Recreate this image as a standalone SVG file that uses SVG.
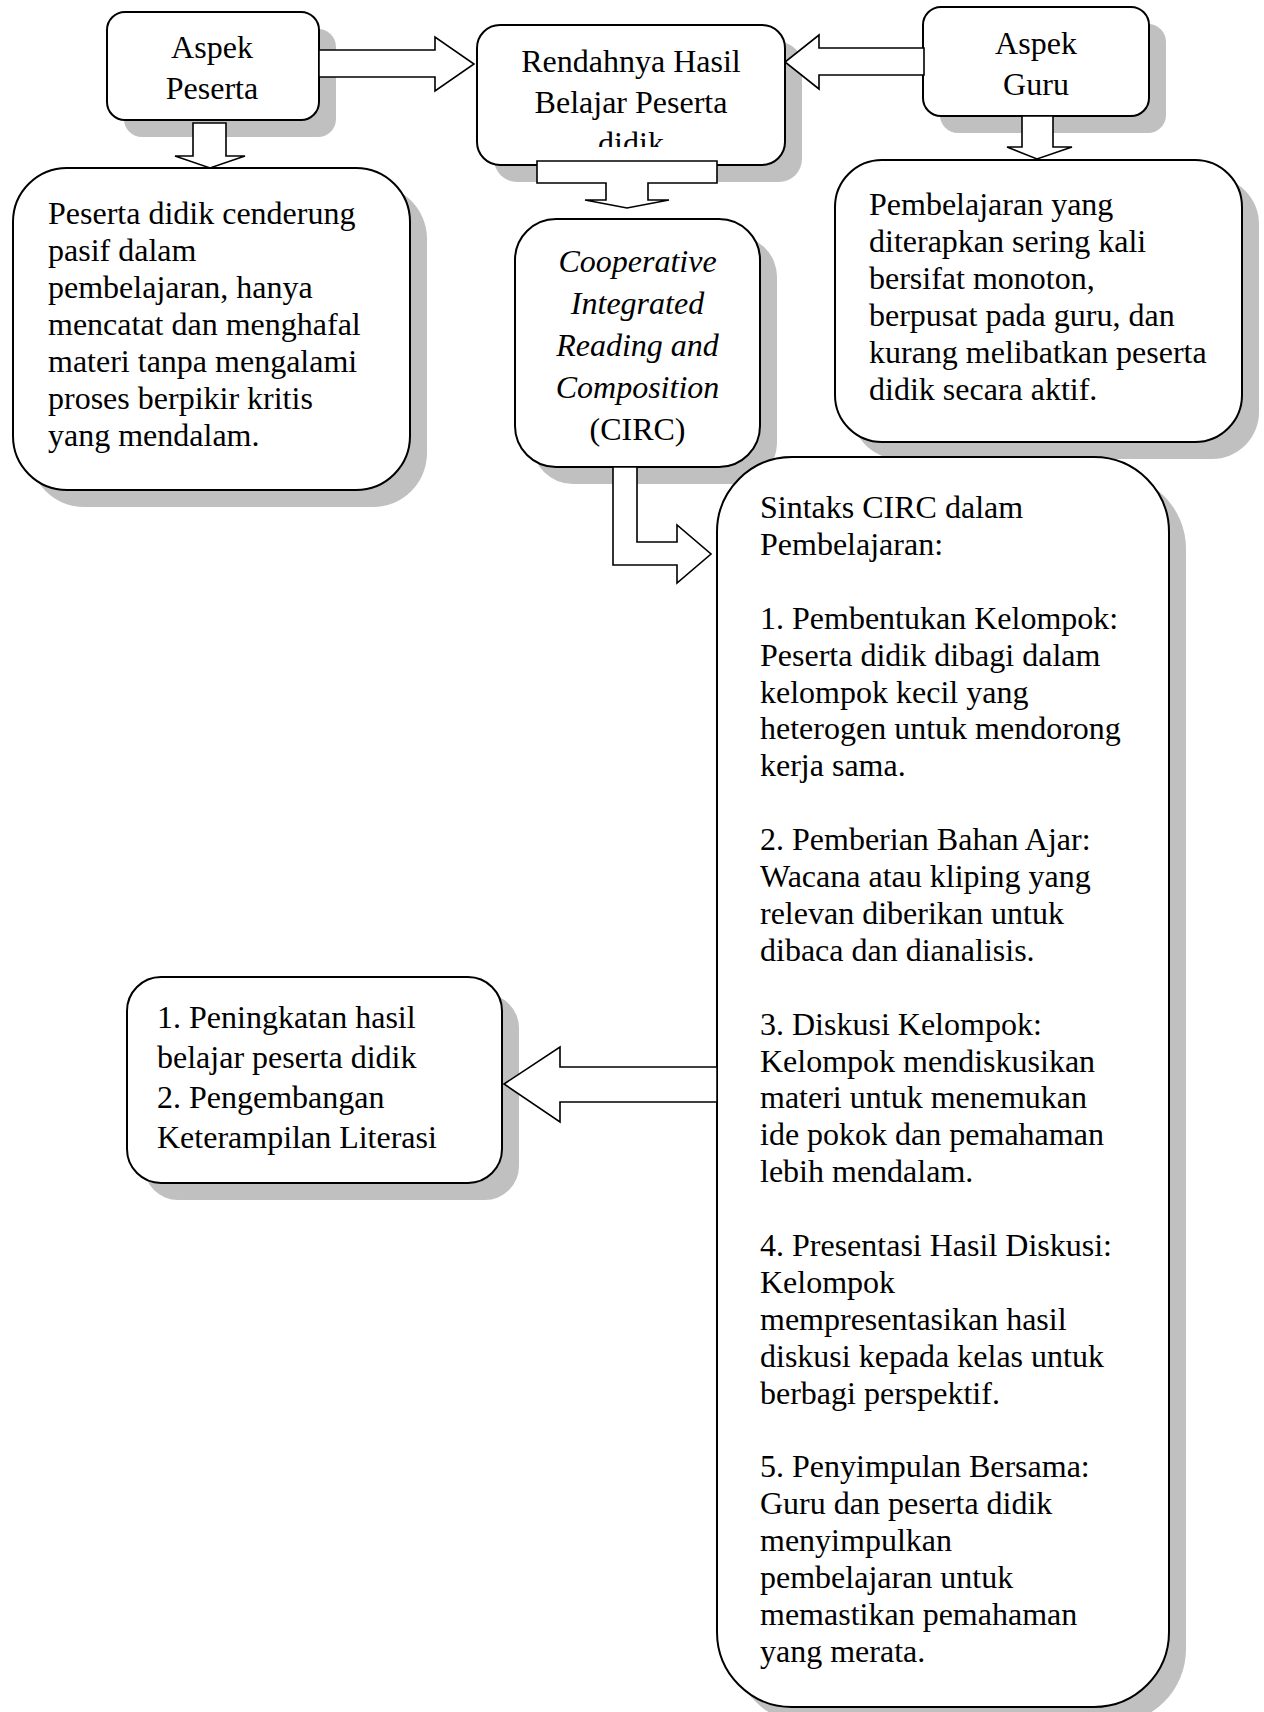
<svg xmlns="http://www.w3.org/2000/svg" width="1264" height="1712" viewBox="0 0 1264 1712">
<style>
.bg{fill:#ffffff}
.shadow{fill:#c0c0c0}
.box{fill:#ffffff;stroke:#000000;stroke-width:2}
.arrow{fill:#ffffff;stroke:#000000;stroke-width:1.6;stroke-linejoin:miter}
.t{font-family:"Liberation Serif","Times New Roman",serif;font-size:32px;fill:#000000}
.c{text-anchor:middle}
.i{font-style:italic}
</style>
<defs>
<clipPath id="clipR"><rect x="477" y="25" width="308" height="122"/></clipPath>
</defs>
<rect class="bg" x="0" y="0" width="1264" height="1712"/>

<g id="node-aspek-peserta">
<rect class="shadow" x="124" y="29" width="212" height="108" rx="18"/>
<rect class="box" x="107" y="12" width="212" height="108" rx="18"/>
<text class="t c" x="212"><tspan x="212" y="58">Aspek</tspan><tspan x="212" y="99">Peserta</tspan></text>
</g>

<g id="node-rendahnya">
<rect class="shadow" x="494" y="42" width="308" height="140" rx="23"/>
<rect class="box" x="477" y="25" width="308" height="140" rx="23"/>
<text class="t c" clip-path="url(#clipR)"><tspan x="631" y="72">Rendahnya Hasil</tspan><tspan x="631" y="113">Belajar Peserta</tspan><tspan x="631" y="154">didik</tspan></text>
</g>

<g id="node-aspek-guru">
<rect class="shadow" x="940" y="24" width="226" height="109" rx="18"/>
<rect class="box" x="923" y="7" width="226" height="109" rx="18"/>
<text class="t c"><tspan x="1036" y="54">Aspek</tspan><tspan x="1036" y="95">Guru</tspan></text>
</g>

<g id="node-peserta-didik">
<rect class="shadow" x="30" y="185" width="397" height="322" rx="54"/>
<rect class="box" x="13" y="168" width="397" height="322" rx="54"/>
<text class="t"><tspan x="48" y="224">Peserta didik cenderung</tspan><tspan x="48" y="261">pasif dalam</tspan><tspan x="48" y="298">pembelajaran, hanya</tspan><tspan x="48" y="335">mencatat dan menghafal</tspan><tspan x="48" y="372">materi tanpa mengalami</tspan><tspan x="48" y="409">proses berpikir kritis</tspan><tspan x="48" y="446">yang mendalam.</tspan></text>
</g>

<g id="node-pembelajaran">
<rect class="shadow" x="852" y="177" width="407" height="282" rx="47"/>
<rect class="box" x="835" y="160" width="407" height="282" rx="47"/>
<text class="t"><tspan x="869" y="215">Pembelajaran yang</tspan><tspan x="869" y="252">diterapkan sering kali</tspan><tspan x="869" y="289">bersifat monoton,</tspan><tspan x="869" y="326">berpusat pada guru, dan</tspan><tspan x="869" y="363">kurang melibatkan peserta</tspan><tspan x="869" y="400">didik secara aktif.</tspan></text>
</g>

<g id="node-circ">
<rect class="shadow" x="532" y="236" width="245" height="248" rx="41"/>
<rect class="box" x="515" y="219" width="245" height="248" rx="41"/>
<text class="t c"><tspan class="i" x="637.5" y="272">Cooperative</tspan><tspan class="i" x="637.5" y="314">Integrated</tspan><tspan class="i" x="637.5" y="356">Reading and</tspan><tspan class="i" x="637.5" y="398">Composition</tspan><tspan x="637.5" y="440">(CIRC)</tspan></text>
</g>

<g id="node-sintaks">
<rect class="shadow" x="734" y="474" width="452" height="1250" rx="75"/>
<rect class="box" x="717" y="457" width="452" height="1250" rx="75"/>
<text class="t"><tspan x="760" y="518">Sintaks CIRC dalam</tspan><tspan x="760" dy="36.9">Pembelajaran:</tspan><tspan x="760" dy="73.8">1. Pembentukan Kelompok:</tspan><tspan x="760" dy="36.9">Peserta didik dibagi dalam</tspan><tspan x="760" dy="36.9">kelompok kecil yang</tspan><tspan x="760" dy="36.9">heterogen untuk mendorong</tspan><tspan x="760" dy="36.9">kerja sama.</tspan><tspan x="760" dy="73.8">2. Pemberian Bahan Ajar:</tspan><tspan x="760" dy="36.9">Wacana atau kliping yang</tspan><tspan x="760" dy="36.9">relevan diberikan untuk</tspan><tspan x="760" dy="36.9">dibaca dan dianalisis.</tspan><tspan x="760" dy="73.8">3. Diskusi Kelompok:</tspan><tspan x="760" dy="36.9">Kelompok mendiskusikan</tspan><tspan x="760" dy="36.9">materi untuk menemukan</tspan><tspan x="760" dy="36.9">ide pokok dan pemahaman</tspan><tspan x="760" dy="36.9">lebih mendalam.</tspan><tspan x="760" dy="73.8">4. Presentasi Hasil Diskusi:</tspan><tspan x="760" dy="36.9">Kelompok</tspan><tspan x="760" dy="36.9">mempresentasikan hasil</tspan><tspan x="760" dy="36.9">diskusi kepada kelas untuk</tspan><tspan x="760" dy="36.9">berbagi perspektif.</tspan><tspan x="760" dy="73.8">5. Penyimpulan Bersama:</tspan><tspan x="760" dy="36.9">Guru dan peserta didik</tspan><tspan x="760" dy="36.9">menyimpulkan</tspan><tspan x="760" dy="36.9">pembelajaran untuk</tspan><tspan x="760" dy="36.9">memastikan pemahaman</tspan><tspan x="760" dy="36.9">yang merata.</tspan></text>
</g>

<g id="node-hasil">
<rect class="shadow" x="144" y="994" width="375" height="206" rx="34"/>
<rect class="box" x="127" y="977" width="375" height="206" rx="34"/>
<text class="t"><tspan x="157" y="1028">1. Peningkatan hasil</tspan><tspan x="157" y="1068">belajar peserta didik</tspan><tspan x="157" y="1108">2. Pengembangan</tspan><tspan x="157" y="1148">Keterampilan Literasi</tspan></text>
</g>

<g id="connectors">
<polygon class="arrow" points="319,50 435,50 435,37 474,64 435,91 435,77 319,77"/>
<polygon class="arrow" points="924,48 819,48 819,35 785,62 819,89 819,75 924,75"/>
<polygon class="arrow" points="193,123 226,123 226,156 245,156 210,168 175,156 193,156"/>
<polygon class="arrow" points="1022,116 1053,116 1053,147 1072,147 1037,159 1007,147 1022,147"/>
<polygon class="arrow" points="537,161 717,161 717,183 648,183 648,200 669,200 627,208 585,200 606,200 606,183 537,183"/>
<polygon class="arrow" points="613,467 637,467 637,542 677,542 677,525 711,554 677,583 677,565 613,565"/>
<polygon class="arrow" points="717,1067 560,1067 560,1047 504,1084 560,1122 560,1102 717,1102"/>
</g>
</svg>
